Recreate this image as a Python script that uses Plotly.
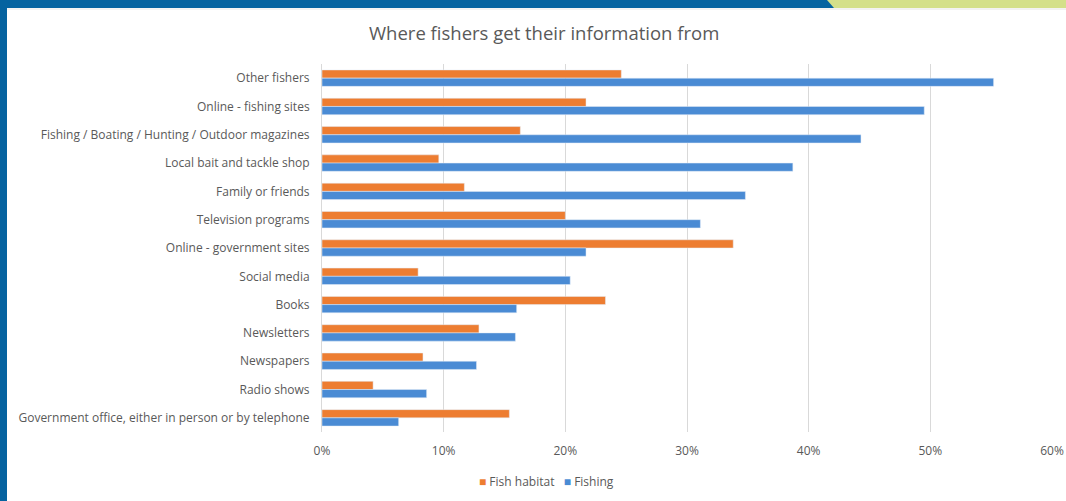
import plotly.graph_objects as go

categories = [
    "Other fishers",
    "Online - fishing sites",
    "Fishing / Boating / Hunting / Outdoor magazines",
    "Local bait and tackle shop",
    "Family or friends",
    "Television programs",
    "Online - government sites",
    "Social media",
    "Books",
    "Newsletters",
    "Newspapers",
    "Radio shows",
    "Government office, either in person or by telephone",
]
fish_habitat = [24.6, 21.7, 16.3, 9.6, 11.7, 20.0, 33.8, 7.9, 23.3, 12.9, 8.3, 4.2, 15.4]
fishing = [55.2, 49.5, 44.3, 38.7, 34.8, 31.1, 21.7, 20.4, 16.0, 15.9, 12.7, 8.6, 6.3]
x_ticks = [0, 10, 20, 30, 40, 50, 60]
x_tick_labels = ["0%", "10%", "20%", "30%", "40%", "50%", "60%"]
series_names = ["Fish habitat", "Fishing"]
series_colors = ["#ED7D31", "#4A8BD4"]

W, H = 1066, 501
FONT = "Open Sans"
TXT = "#595959"

fig = go.Figure()
fig.add_trace(go.Bar(y=categories, x=fish_habitat, orientation="h", name=series_names[0],
                     marker=dict(color=series_colors[0])))
fig.add_trace(go.Bar(y=categories, x=fishing, orientation="h", name=series_names[1],
                     marker=dict(color=series_colors[1])))

legend_text = "   ".join(
    f"<span style='color:{c}'>■</span> {n}" for n, c in zip(series_names, series_colors)
)

fig.update_layout(
    width=W, height=H,
    margin=dict(l=0, r=0, t=0, b=0),
    paper_bgcolor="white", plot_bgcolor="white",
    barmode="group", bargap=0.42, bargroupgap=0,
    font=dict(family=FONT, size=12, color=TXT),
    showlegend=False,
    xaxis=dict(domain=[322 / W, 1052 / W], range=[0, 60], tickvals=x_ticks, ticktext=x_tick_labels,
               showgrid=True, gridcolor="#D9D9D9", gridwidth=1, zeroline=False,
               showline=False, ticks="", ticklabelstandoff=10, automargin=False,
               tickfont=dict(size=12)),
    yaxis=dict(domain=[1 - 432 / H, 1 - 64 / H], autorange="reversed", showgrid=False,
               zeroline=False, showline=True, linecolor="#D9D9D9", linewidth=1,
               ticks="", ticklabelstandoff=9, automargin=False, tickfont=dict(size=12)),
    annotations=[
        dict(text="Where fishers get their information from", x=544 / W, y=1 - 33 / H,
             xref="paper", yref="paper", showarrow=False,
             font=dict(family=FONT, size=18.5, color=TXT), xanchor="center", yanchor="middle"),
        dict(text=legend_text, x=546 / W, y=1 - 481 / H, xref="paper", yref="paper",
             showarrow=False, font=dict(family=FONT, size=12, color=TXT),
             xanchor="center", yanchor="middle"),
    ],
    shapes=[
        dict(type="rect", xref="paper", yref="paper", x0=0, x1=1, y0=1 - 8 / H, y1=1,
             fillcolor="#0563A0", line=dict(width=0), layer="above"),
        dict(type="path", xref="paper", yref="paper",
             path=f"M {827 / W} 1 L 1 1 L 1 {1 - 8 / H} L {834 / W} {1 - 8 / H} Z",
             fillcolor="#D4E08A", line=dict(width=0), layer="above"),
        dict(type="rect", xref="paper", yref="paper", x0=0, x1=7 / W, y0=0, y1=1,
             fillcolor="#0563A0", line=dict(width=0), layer="above"),
        dict(type="line", xref="paper", yref="paper", x0=7 / W, x1=1, y0=1 - 9 / H, y1=1 - 9 / H,
             line=dict(color="#E6E6E6", width=1), layer="above"),
    ],
)

fig.write_html("out.html")
